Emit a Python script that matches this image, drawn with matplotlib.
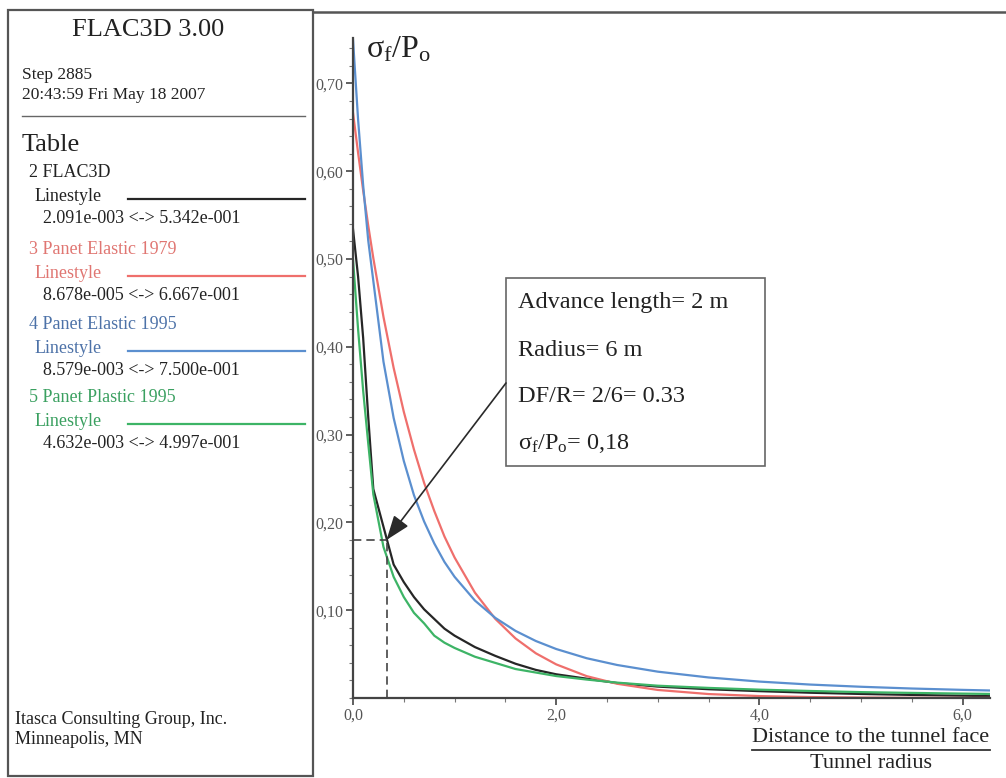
import matplotlib
matplotlib.use("Agg")
import matplotlib.pyplot as plt
from matplotlib.patches import Rectangle
from matplotlib.ticker import MultipleLocator, FuncFormatter

plt.rcParams['font.family'] = ['Liberation Serif', 'DejaVu Serif']
plt.rcParams['mathtext.fontset'] = 'custom'
plt.rcParams['mathtext.rm'] = 'Liberation Serif'
plt.rcParams['mathtext.it'] = 'Liberation Serif:italic'
plt.rcParams['mathtext.default'] = 'regular'

# Normalised distance to the tunnel face (x / R)
distance = [0.0, 0.05, 0.1, 0.15, 0.2, 0.3, 0.4, 0.5, 0.6, 0.7, 0.8, 0.9, 1.0,
            1.2, 1.4, 1.6, 1.8, 2.0, 2.3, 2.6, 3.0, 3.5, 4.0, 4.5, 5.0, 5.5,
            6.0, 6.26]

# sigma_f / Po for each table
flac3d = [0.534, 0.48, 0.41, 0.32, 0.238, 0.195, 0.152, 0.132, 0.115, 0.101,
          0.090, 0.079, 0.071, 0.058, 0.048, 0.039, 0.032, 0.027, 0.022, 0.017,
          0.013, 0.0100, 0.0078, 0.0060, 0.0046, 0.0035, 0.0026, 0.00209]
panet_elastic_1979 = [0.6667, 0.621, 0.578, 0.538, 0.501, 0.434, 0.376, 0.326,
                      0.283, 0.245, 0.213, 0.184, 0.160, 0.120, 0.0902, 0.0678,
                      0.0509, 0.0383, 0.0249, 0.0162, 0.00917, 0.00449, 0.0022,
                      0.00108, 0.000527, 0.000258, 0.000126, 0.0000868]
panet_elastic_1995 = [0.750, 0.659, 0.584, 0.521, 0.475, 0.383, 0.319, 0.270,
                      0.231, 0.201, 0.176, 0.155, 0.138, 0.111, 0.0913, 0.0764,
                      0.0649, 0.0558, 0.0453, 0.0376, 0.030, 0.0234, 0.0187,
                      0.0153, 0.0128, 0.0108, 0.00926, 0.00858]
panet_plastic_1995 = [0.4997, 0.42, 0.35, 0.29, 0.232, 0.172, 0.138, 0.115,
                      0.097, 0.085, 0.071, 0.063, 0.057, 0.047, 0.040, 0.033,
                      0.029, 0.025, 0.021, 0.0175, 0.014, 0.0115, 0.0095,
                      0.0080, 0.0067, 0.0058, 0.0050, 0.00463]

table_names = ["2 FLAC3D", "3 Panet Elastic 1979", "4 Panet Elastic 1995",
               "5 Panet Plastic 1995"]
table_ranges = ["2.091e-003 <-> 5.342e-001", "8.678e-005 <-> 6.667e-001",
                "8.579e-003 <-> 7.500e-001", "4.632e-003 <-> 4.997e-001"]
x_ticks = [0.0, 2.0, 4.0, 6.0]
y_ticks = [0.1, 0.2, 0.3, 0.4, 0.5, 0.6, 0.7]
face_ratio = 0.33
face_stress = 0.18

line_colors = ["#262626", "#ef6f6c", "#5b8fcf", "#3db466"]
name_colors = ["#222222", "#e07672", "#4d72a8", "#3aa060"]

W, H = 1006, 778
fig = plt.figure(figsize=(W / 100, H / 100), dpi=100)

# Background layer in pixel coordinates (y downwards)
bg = fig.add_axes([0, 0, 1, 1])
bg.set_xlim(0, W)
bg.set_ylim(H, 0)
bg.axis('off')

frame_kw = dict(fill=False, edgecolor="#555555", linewidth=1.6)
bg.add_patch(Rectangle((8, 10), 305, 766, **frame_kw))
bg.plot([313, W], [12, 12], color="#555555", lw=1.8)
bg.plot([22, 305], [116, 116], color="#666666", lw=1.0)

txt = "#222222"
bg.text(148, 30, "FLAC3D 3.00", fontsize=19, ha='center', va='center', color=txt)
bg.text(22, 75, "Step 2885", fontsize=12.5, va='center', color=txt)
bg.text(22, 95, "20:43:59 Fri May 18 2007", fontsize=12.5, va='center', color=txt)
bg.text(22, 145, "Table", fontsize=19, va='center', color=txt)

row_y = [172, 249, 324, 397]
for i in range(4):
    y0 = row_y[i]
    bg.text(29, y0, table_names[i], fontsize=13, va='center', color=name_colors[i])
    bg.text(35, y0 + 24, "Linestyle", fontsize=13, va='center', color=name_colors[i])
    bg.plot([128, 305], [y0 + 27, y0 + 27], color=line_colors[i], lw=1.6)
    bg.text(43, y0 + 46, table_ranges[i], fontsize=13, va='center', color=txt)

bg.text(15, 720, "Itasca Consulting Group, Inc.", fontsize=13, va='center', color=txt)
bg.text(15, 739, "Minneapolis, MN", fontsize=13, va='center', color=txt)

# Axis title fraction label
bg.text(871, 737, "Distance to the tunnel face", fontsize=16, ha='center',
        va='center', color=txt)
bg.plot([752, 990], [750, 750], color="#333333", lw=1.3)
bg.text(871, 764, "Tunnel radius", fontsize=16, ha='center', va='center', color=txt)
bg.text(366, 50, r"$\sigma_{f}$/P$_{o}$", fontsize=23, va='center', color=txt)

# Info box
bg.add_patch(Rectangle((506, 278), 259, 188, fill=False, edgecolor="#666666", lw=1.2))
bg.text(518, 302, "Advance length= 2 m", fontsize=17.5, va='center', color=txt)
bg.text(518, 350, "Radius= 6 m", fontsize=17.5, va='center', color=txt)
bg.text(518, 396, "DF/R= 2/6= 0.33", fontsize=17.5, va='center', color=txt)
bg.text(518, 443, r"$\sigma_{f}$/P$_{o}$= 0,18", fontsize=17.5,
        va='center', color=txt)

# Main chart
x_left, x_right = 353, 990
y_bot, y_top = 698, 38
ax = fig.add_axes([x_left / W, (H - y_bot) / H, (x_right - x_left) / W,
                   (y_bot - y_top) / H])
ax.patch.set_alpha(0)
ax.set_xlim(0, 6.27)
ax.set_ylim(0, 0.7517)
for s in ("top", "right"):
    ax.spines[s].set_visible(False)
for s in ("left", "bottom"):
    ax.spines[s].set_color("#444444")
    ax.spines[s].set_linewidth(1.6)

series = [flac3d, panet_elastic_1979, panet_elastic_1995, panet_plastic_1995]
for vals, c in zip(series, line_colors):
    ax.plot(distance, vals, color=c, lw=1.6, solid_joinstyle='round')

ax.set_xticks(x_ticks)
ax.set_yticks(y_ticks)
comma = FuncFormatter(lambda v, p: f"{v:.1f}".replace('.', ','))
comma2 = FuncFormatter(lambda v, p: f"{v:.2f}".replace('.', ','))
ax.xaxis.set_major_formatter(comma)
ax.yaxis.set_major_formatter(comma2)
ax.xaxis.set_minor_locator(MultipleLocator(0.5))
ax.yaxis.set_minor_locator(MultipleLocator(0.02))
ax.tick_params(which='major', length=5, width=1.2, color="#444444",
               labelsize=11.5, labelcolor="#555555", pad=2)
ax.tick_params(which='minor', length=3, width=0.8, color="#777777")

ax.plot([0, face_ratio], [face_stress, face_stress], color="#444444", lw=1.2,
        dashes=(5, 3))
ax.plot([face_ratio, face_ratio], [0, face_stress], color="#444444", lw=1.2,
        dashes=(5, 3))
ax.annotate("", xy=(face_ratio, face_stress), xycoords='data',
            xytext=(506, H - 383), textcoords='figure pixels',
            arrowprops=dict(arrowstyle='-|>,head_length=1.5,head_width=0.55',
                            color="#2a2a2a", lw=1.2, shrinkA=0, shrinkB=0),
            annotation_clip=False)

fig.savefig("out.png", dpi=100)
